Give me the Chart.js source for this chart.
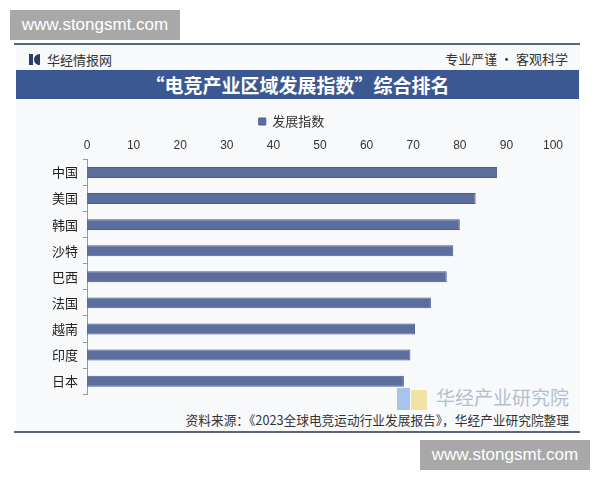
<!DOCTYPE html>
<html>
<head>
<meta charset="utf-8">
<script src="https://cdn.jsdelivr.net/npm/chart.js@4"></script>
<style>
  body { margin: 0; width: 600px; height: 480px; background: #fff; position: relative; overflow: hidden;
         font-family: 'Noto Sans CJK SC', 'Liberation Sans', sans-serif; }
  .abs { position: absolute; }
  .wm { background: #a8a8a8; color: #fff; font: 17px 'Liberation Sans', Arial, sans-serif; line-height: 30px;
        text-align: center; width: 170px; height: 30px; }
  #card { left: 16px; top: 43px; width: 564px; height: 390px; background: #f8f9fb; }
  .rule { height: 2px; background: #5a6477; left: 14px; width: 566px; }
  #title { left: 16px; top: 70px; width: 563px; height: 29px; background: #3b5893; color: #fff;
           font-weight: bold; font-size: 19px; line-height: 29px; text-align: center; }
</style>
</head>
<body>
<div id="card" class="abs"></div>
<div class="abs rule" style="top:43px"></div>
<div class="abs rule" style="top:431px"></div>
<div class="abs" style="left:29px;top:54px;width:4px;height:11px;background:#2c3d62"></div>
<div class="abs" style="left:34px;top:54px;width:6px;height:11px;background:#2c3d62;border-radius:6px 0 0 6px"></div>
<div class="abs" style="left:47px;top:50px;font-size:13px;color:#333">华经情报网</div>
<div class="abs" style="right:32px;top:49px;font-size:13px;color:#333">专业严谨 • 客观科学</div>
<div id="title" class="abs">“电竞产业区域发展指数”综合排名</div>

<div class="abs" style="left:397px;top:388px;width:13px;height:22px;background:#a9c4ea"></div>
<div class="abs" style="left:411px;top:390px;width:16px;height:20px;background:#f1e2a6"></div>
<div class="abs" style="left:436px;top:383px;font-size:19px;color:#b3bfcf">华经产业研究院</div>
<div class="abs" style="right:31px;top:410px;font-size:12.7px;color:#333">资料来源：《2023全球电竞运动行业发展报告》，华经产业研究院整理</div>

<div class="abs" style="left:0;top:110px;width:600px;height:297px">
  <canvas id="Canvas1" width="600" height="297"></canvas>
</div>

<div class="abs wm" style="left:10px;top:10px">www.stongsmt.com</div>
<div class="abs wm" style="left:420px;top:440px">www.stongsmt.com</div>

<script>
var labels = ["中国", "美国", "韩国", "沙特", "巴西", "法国", "越南", "印度", "日本"];
var indexData = [88.0, 83.4, 80.0, 78.6, 77.2, 73.8, 70.4, 69.4, 68.0];
var xTicks = [0, 10, 20, 30, 40, 50, 60, 70, 80, 90, 100];

var GKChart = document.getElementById('Canvas1').getContext('2d');

var myChart = new Chart(GKChart, {
    type: 'bar',
    data: {
        labels: labels,
        datasets: [{
            label: '发展指数',
            data: indexData,
            backgroundColor: '#5b6e9e',
            borderColor: '#4c5e8b',
            borderWidth: 1,
            categoryPercentage: 1,
            barPercentage: 0.42
        }]
    },
    options: {
        indexAxis: 'y',
        responsive: false,
        animation: false,
        layout: { padding: { left: 30, right: 47, top: 0, bottom: 5 } },
        plugins: {
            tooltip: { enabled: false },
            legend: {
                labels: {
                    boxWidth: 7, boxHeight: 7, padding: 5, color: '#333',
                    font: { size: 13, family: "'Noto Sans CJK SC', sans-serif" }
                }
            }
        },
        scales: {
            x: {
                position: 'top',
                min: 0, max: 100,
                afterBuildTicks: function (axis) {
                    axis.ticks = xTicks.map(function (v) { return { value: v }; });
                },
                afterFit: function (scale) { scale.height = scale.height - 7; },
                grid: { display: false, drawTicks: false },
                border: { display: false },
                ticks: { color: '#333', padding: 7, font: { size: 12, family: "'Liberation Sans', Arial, sans-serif" } }
            },
            y: {
                afterFit: function (scale) { scale.width = 57; },
                grid: { drawOnChartArea: false, tickLength: 4, color: '#999' },
                border: { color: '#999' },
                ticks: { color: '#222', padding: 5, font: { size: 13, family: "'Noto Sans CJK SC', sans-serif" } }
            }
        }
    }
});
</script>
</body>
</html>
